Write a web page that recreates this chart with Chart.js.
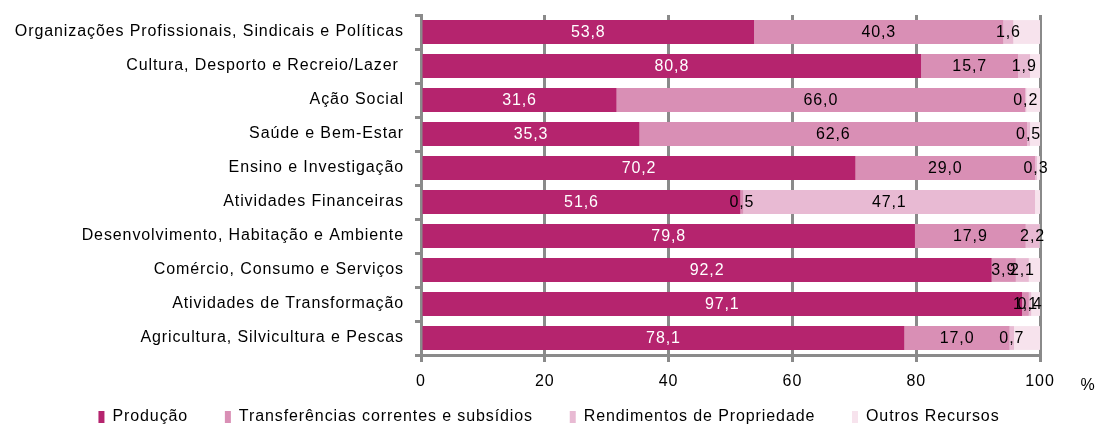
<!DOCTYPE html>
<html>
<head>
<meta charset="utf-8">
<script src="https://cdn.jsdelivr.net/npm/chart.js@4"></script>
<style>
  html, body { margin: 0; padding: 0; background: #fff; }
  #wrap { width: 1098px; height: 425px; }
</style>
</head>
<body>
<div id="wrap"><canvas id="grafico" width="1098" height="425"></canvas></div>
<script>
// Categorias (de cima para baixo)
const categorias = [
  'Organizações Profissionais, Sindicais e Políticas',
  'Cultura, Desporto e Recreio/Lazer ',
  'Ação Social',
  'Saúde e Bem-Estar',
  'Ensino e Investigação',
  'Atividades Financeiras',
  'Desenvolvimento, Habitação e Ambiente',
  'Comércio, Consumo e Serviços',
  'Atividades de Transformação',
  'Agricultura, Silvicultura e Pescas'
];

// Séries (%)
const producao        = [53.8, 80.8, 31.6, 35.3, 70.2, 51.6, 79.8, 92.2, 97.1, 78.1];
const transferencias  = [40.3, 15.7, 66.0, 62.6, 29.0,  0.5, 17.9,  3.9,  1.1, 17.0];
const rendimentos     = [ 1.6,  1.9,  0.2,  0.5,  0.3, 47.1,  2.2,  2.1,  0.4,  0.7];
const outros          = [ 4.3,  1.6,  2.2,  1.6,  0.5,  0.8,  0.1,  1.8,  1.4,  4.2];

const nomesSeries = ['Produção', 'Transferências correntes e subsídios', 'Rendimentos de Propriedade', 'Outros Recursos'];
const coresSeries = ['#b5246e', '#d98fb5', '#e8bad3', '#f7e3ed'];

const FONTE = '"Liberation Sans", Arial, sans-serif';
const CINZA = '#8a8a8a';
const ESPACO = '0.9px'; // espaçamento entre letras, como no original
const FOLGA = '\u00a0'.repeat(5); // afastamento entre itens da legenda

// o texto do original é mais espaçado
const espacoPlugin = {
  id: 'espaco',
  beforeUpdate(chart) { chart.ctx.letterSpacing = ESPACO; },
  beforeDraw(chart) { chart.ctx.letterSpacing = ESPACO; }
};

// Rótulos de valor dentro das barras (só as 3 primeiras séries)
const rotulosPlugin = {
  id: 'rotulos',
  afterDatasetsDraw(chart) {
    const ctx = chart.ctx;
    ctx.save();
    ctx.font = '16px ' + FONTE;
    ctx.textAlign = 'center';
    ctx.textBaseline = 'middle';
    for (let d = 0; d < 3; d++) {
      const meta = chart.getDatasetMeta(d);
      meta.data.forEach((bar, i) => {
        const v = chart.data.datasets[d].data[i];
        const x = (bar.x + bar.base) / 2;
        ctx.fillStyle = d === 0 ? '#ffffff' : '#000000';
        ctx.fillText(v.toFixed(1).replace('.', ','), x, bar.y + 1);
      });
    }
    // sinal de % à direita do eixo
    ctx.fillStyle = '#000';
    ctx.fillText('%', 1088, 386);
    ctx.restore();
  }
};

new Chart(document.getElementById('grafico').getContext('2d'), {
  type: 'bar',
  data: {
    labels: categorias,
    datasets: [producao, transferencias, rendimentos, outros].map((serie, k) => ({
      label: nomesSeries[k],
      data: serie,
      backgroundColor: coresSeries[k],
      borderWidth: 0,
      barPercentage: 0.7,
      categoryPercentage: 1
    }))
  },
  options: {
    indexAxis: 'y',
    responsive: false,
    animation: false,
    layout: { padding: { top: 15, right: 0, left: 0, bottom: -10 } },
    scales: {
      x: {
        stacked: true,
        min: 0, max: 100,
        ticks: { stepSize: 20, color: '#000', font: { family: FONTE, size: 16 }, padding: 10 },
        grid: { color: CINZA, lineWidth: 3, tickLength: 7 },
        border: { color: CINZA, width: 3 },
        afterFit: s => { s.height = 44; s.paddingLeft = 0; s.paddingRight = 58; }
      },
      y: {
        stacked: true,
        ticks: { color: '#000', font: { family: FONTE, size: 16 }, padding: 11 },
        grid: { drawOnChartArea: false, color: CINZA, lineWidth: 3, tickLength: 6 },
        border: { color: CINZA, width: 3 },
        afterFit: s => { s.width = 421; s.paddingTop = 0; s.paddingBottom = 0; }
      }
    },
    plugins: {
      legend: {
        position: 'bottom',
        labels: {
          color: '#000',
          font: { family: FONTE, size: 16 },
          boxWidth: 6,
          boxHeight: 12,
          padding: 10,
          generateLabels(chart) {
            const itens = Chart.defaults.plugins.legend.labels.generateLabels(chart);
            itens.forEach((it, k) => { if (k < itens.length - 1) it.text += FOLGA; });
            return itens;
          }
        }
      },
      tooltip: { enabled: false }
    }
  },
  plugins: [espacoPlugin, rotulosPlugin]
});
</script>
</body>
</html>
